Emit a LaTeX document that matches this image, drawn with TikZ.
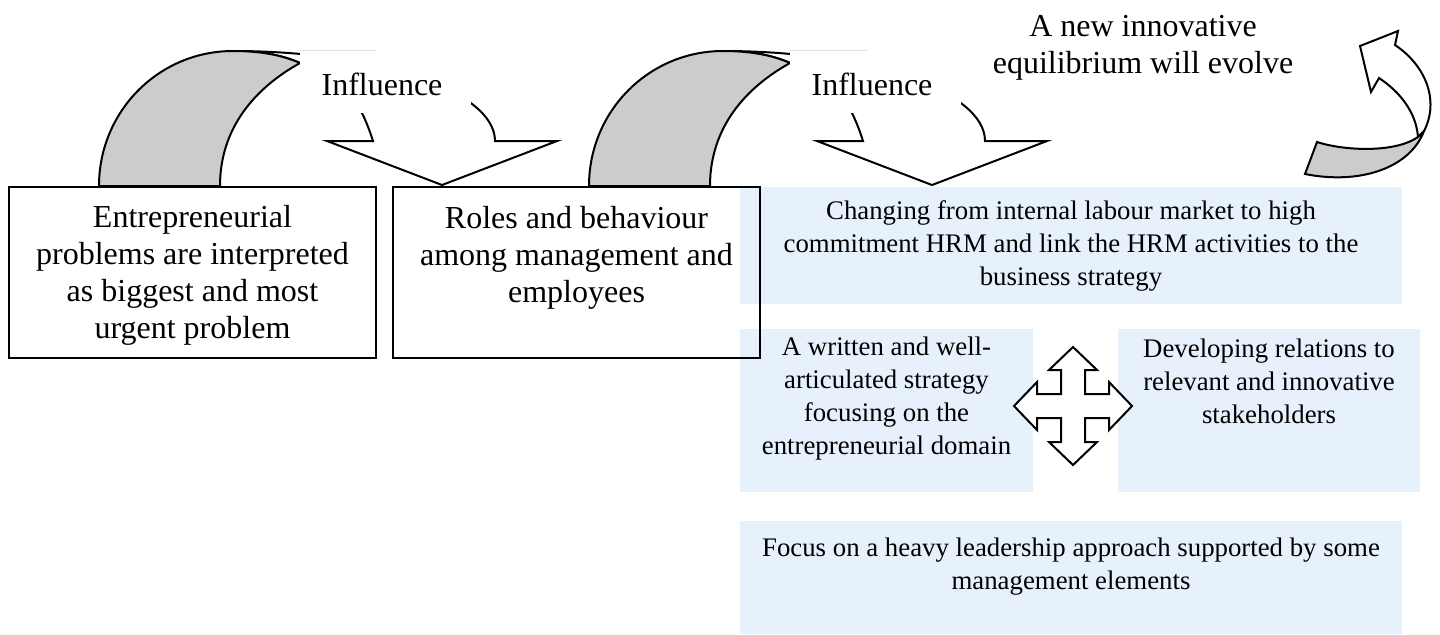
\documentclass[tikz,border=0pt]{standalone}
\usepackage{fontspec}
\setmainfont{Liberation Serif}
\definecolor{bluebg}{RGB}{231,241,252}
\definecolor{arrgray}{RGB}{204,204,204}
\tikzset{
  plainbox/.style={draw=black, line width=1pt, inner sep=0pt, rectangle},
  bluebox/.style={fill=bluebg, draw=none, inner sep=0pt, rectangle},
  bigtext/.style={align=center, font=\fontsize{16pt}{18.5pt}\selectfont, inner sep=0pt},
  smalltext/.style={align=center, font=\fontsize{13.4pt}{16.5pt}\selectfont, inner sep=0pt},
  outl/.style={draw=black, line width=1pt, line join=miter},
  backface/.style={outl, fill=arrgray},
  frontface/.style={outl, fill=white},
  whitebox/.style={fill=white, draw=none, inner sep=0pt, rectangle},
  faintline/.style={draw=black!12, line width=0.6pt},
}
\begin{document}
\begin{tikzpicture}[x=0.5pt,y=-0.5pt]
\useasboundingbox (0,0) rectangle (1440,634);

% light blue boxes
\node[bluebox, minimum width=331pt, minimum height=58.5pt] (boxA) at (1071,245.5) {};
\node[bluebox, minimum width=146.5pt, minimum height=81.5pt] (boxB) at (886.5,410.5) {};
\node[bluebox, minimum width=151pt, minimum height=81.5pt] (boxC) at (1269,410.5) {};
\node[bluebox, minimum width=331pt, minimum height=56.5pt] (boxD) at (1071,577.5) {};

% white boxes
\node[plainbox, minimum width=183.5pt, minimum height=85.5pt] (left) at (192.5,272.5) {};
\node[plainbox, minimum width=183.5pt, minimum height=85.5pt] (mid) at (576.5,272.5) {};

% curved down arrows
\foreach \sh/\nm in {0/one, 245/two}{
\begin{scope}[xshift=\sh pt]
  \path[frontface] (233,51) .. controls (378,51) and (495,91) .. (495,141)
     -- (557,141) -- (442,185) -- (327,141) -- (373,141)
     .. controls (360,100) and (340,70) .. (300,63)
     .. controls (282,55) and (260,51) .. (233,51) -- cycle;
  \path[backface] (99,186) .. controls (99,111) and (159,51) .. (233,51)
     .. controls (260,51) and (282,55) .. (300,63)
     .. controls (255,88) and (220,128) .. (220,186) -- cycle;
  \node[whitebox, minimum width=85.5pt, minimum height=31pt] (inf\nm box) at (385.5,82) {};
  \draw[faintline] (inf\nm box.north west) -- ++(77,0);
  \node[bigtext] (inf\nm) at (382,84) {Influence};
\end{scope}
}

% curved up arrow at right
\path[frontface] (1424,131) .. controls (1440,100) and (1425,65) .. (1395,45)
   -- (1398,31) -- (1360,46) -- (1371,92) -- (1379,78)
   .. controls (1400,92) and (1416,112) .. (1418,137) -- cycle;
\path[backface] (1317,142) .. controls (1345,151) and (1395,153) .. (1418,137)
   -- (1424,131) .. controls (1410,168) and (1360,185) .. (1305,174) -- cycle;

% four-way arrow
\begin{scope}[shift={(1073,406)}]
  \path[frontface] (0,-59) -- (24,-36) -- (12,-36) -- (12,-12) -- (36,-12) -- (36,-24)
    -- (59,0) -- (36,24) -- (36,12) -- (12,12) -- (12,36) -- (24,36) -- (0,59)
    -- (-24,36) -- (-12,36) -- (-12,12) -- (-36,12) -- (-36,24) -- (-59,0)
    -- (-36,-24) -- (-36,-12) -- (-12,-12) -- (-12,-36) -- (-24,-36) -- cycle;
\end{scope}

% texts
\node[bigtext] (lefttext) at (192.5,275.5) {Entrepreneurial\\problems are interpreted\\as biggest and most\\urgent problem};
\node[bigtext] (midtext) at (576.5,257.5) {Roles and behaviour\\among management and\\employees};
\node[bigtext] (title) at (1143,48) {A new innovative\\equilibrium will evolve};
\node[smalltext] (textA) at (1071,246) {Changing from internal labour market to high\\commitment HRM and link the HRM activities to the\\business strategy};
\node[smalltext] (textB) at (886.5,398.5) {A written and well-\\articulated strategy\\focusing on the\\entrepreneurial domain};
\node[smalltext] (textC) at (1269,381) {Developing relations to\\relevant and innovative\\stakeholders};
\node[smalltext] (textD) at (1071,567) {Focus on a heavy leadership approach supported by some\\management elements};
\end{tikzpicture}
\end{document}
